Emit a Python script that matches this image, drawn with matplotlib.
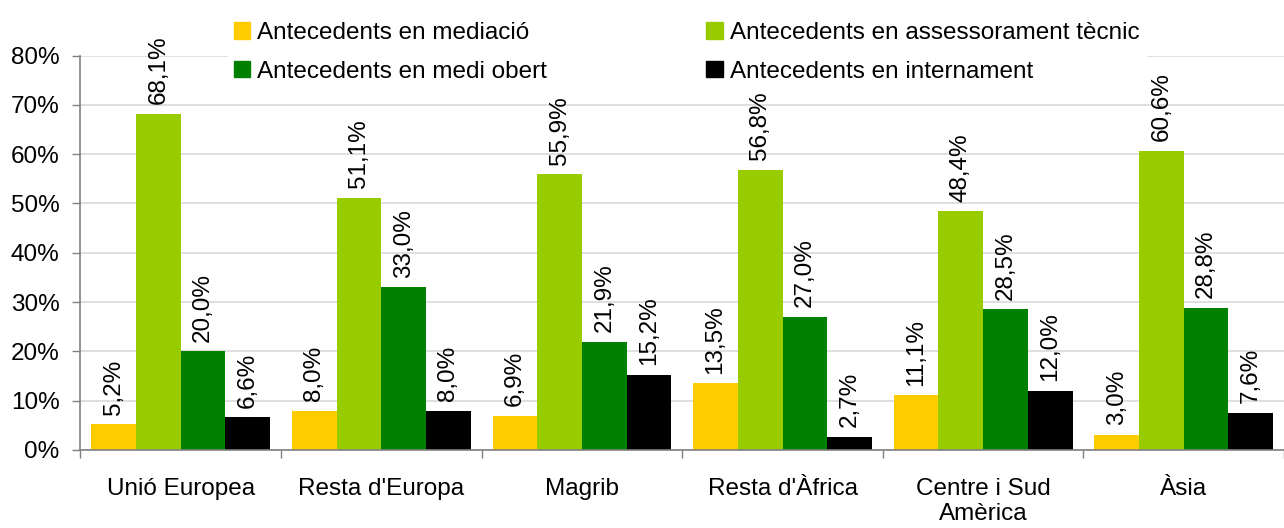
import matplotlib
matplotlib.use("Agg")
import matplotlib.pyplot as plt
import numpy as np
from matplotlib.patches import Rectangle

plt.rcParams['font.family'] = ['Liberation Sans', 'DejaVu Sans']

categories = ["Unió Europea", "Resta d'Europa", "Magrib", "Resta d'Àfrica",
              "Centre i Sud\nAmèrica", "Àsia"]
series_names = ["Antecedents en mediació", "Antecedents en assessorament tècnic",
                "Antecedents en medi obert", "Antecedents en internament"]
mediacio = [5.2, 8.0, 6.9, 13.5, 11.1, 3.0]
assessorament = [68.1, 51.1, 55.9, 56.8, 48.4, 60.6]
medi_obert = [20.0, 33.0, 21.9, 27.0, 28.5, 28.8]
internament = [6.6, 8.0, 15.2, 2.7, 12.0, 7.6]
colors = ["#FFCC00", "#99CC00", "#008000", "#000000"]

W, H = 1284, 528
fig = plt.figure(figsize=(W / 100, H / 100), dpi=100)
left_px, bottom_px, top_px = 80.5, 450, 55.5
group_px = 202.0
ax = fig.add_axes([left_px / W, (H - bottom_px) / H, (W - left_px) / W,
                   (bottom_px - top_px) / H])

fs = 17.5
x = np.arange(len(categories))
bw = 0.2228
data = [mediacio, assessorament, medi_obert, internament]
for i, (vals, c) in enumerate(zip(data, colors)):
    pos = x + (i - 1.5) * bw
    ax.bar(pos, vals, width=bw, color=c, zorder=2, linewidth=0)
    for p, v in zip(pos, vals):
        ax.annotate(f"{v:.1f}%".replace('.', ','), (p, v), xytext=(0, 7),
                    textcoords='offset points', rotation=90, ha='center',
                    va='bottom', fontsize=fs, color='black')

ax.set_ylim(0, 80)
ax.set_xlim(-0.5, -0.5 + (W - left_px) / group_px)
ax.set_yticks(np.arange(0, 81, 10))
ax.set_yticklabels([f"{t}%" for t in range(0, 81, 10)], fontsize=fs)
ax.yaxis.grid(True, color='#d9d9d9', linewidth=1.2, zorder=0)
ax.set_axisbelow(True)

ax.set_xticks(x)
ax.set_xticklabels(categories, fontsize=fs)
ax.set_xticks(np.arange(-0.5, len(categories), 1), minor=True)
ax.tick_params(axis='x', which='major', length=0, pad=20)
ax.tick_params(axis='x', which='minor', length=6, width=1, color='#808080')
ax.tick_params(axis='y', length=6, width=1, color='#808080', pad=9)

for s in ['top', 'right']:
    ax.spines[s].set_visible(False)
for s in ['left', 'bottom']:
    ax.spines[s].set_color('#808080')
    ax.spines[s].set_linewidth(1.2)

handles = [Rectangle((0, 0), 1, 1, color=colors[k]) for k in [0, 2, 1, 3]]
labels = [series_names[k] for k in [0, 2, 1, 3]]
leg = fig.legend(handles, labels, ncol=2, loc='upper left',
                 bbox_to_anchor=(228 / W, 1 - 16 / H), bbox_transform=fig.transFigure,
                 frameon=True, fancybox=False, edgecolor='white', facecolor='white',
                 framealpha=1, fontsize=fs, handlelength=0.66, handleheight=0.66,
                 handletextpad=0.3, columnspacing=6.55, labelspacing=0.68,
                 borderpad=0.25, borderaxespad=0)
leg.set_zorder(5)

fig.savefig("out.png", dpi=100)
